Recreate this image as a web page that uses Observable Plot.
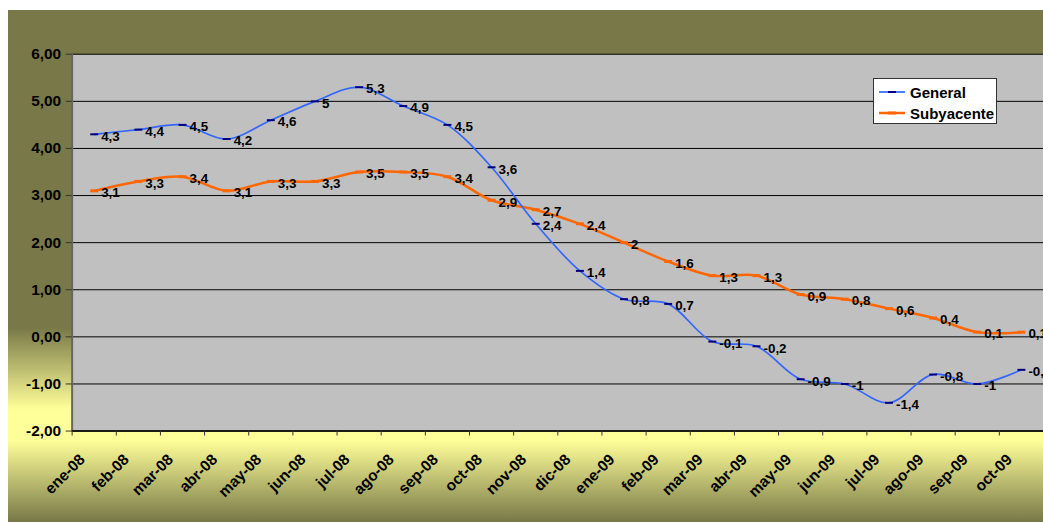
<!DOCTYPE html>
<html>
<head>
<meta charset="utf-8">
<script src="https://cdn.jsdelivr.net/npm/d3@7"></script>
<script src="https://cdn.jsdelivr.net/npm/@observablehq/plot@0.6"></script>
<style>
  html, body { margin: 0; padding: 0; background: #ffffff; }
  body { width: 1043px; height: 522px; position: relative; overflow: hidden; font-family: Arial, "Liberation Sans", sans-serif; }
  #wrap {
    position: absolute; left: 8px; top: 10px; width: 1035px; height: 512px; overflow: hidden;
    background: linear-gradient(to bottom, #787848 0%, #787848 62%, #ffff99 78%, #ffff99 84%, #787848 100%);
  }
  #legend {
    position: absolute; left: 865px; top: 68px; width: 124px; height: 46px;
    background: #ffffff; border: 1px solid #333333; box-sizing: border-box;
    font-weight: bold; font-size: 15px; color: #000;
  }
  #legend .row { position: absolute; left: 4px; height: 18px; display: flex; align-items: center; }
  #legend .row span { margin-left: 4px; }
</style>
</head>
<body>
<div id="wrap">
  <div id="chart"></div>
  <div id="legend"></div>
</div>
<script>
const months = ["ene-08","feb-08","mar-08","abr-08","may-08","jun-08","jul-08","ago-08","sep-08","oct-08","nov-08","dic-08",
                "ene-09","feb-09","mar-09","abr-09","may-09","jun-09","jul-09","ago-09","sep-09","oct-09"];
const general = [4.3,4.4,4.5,4.2,4.6,5,5.3,4.9,4.5,3.6,2.4,1.4,0.8,0.7,-0.1,-0.2,-0.9,-1,-1.4,-0.8,-1,-0.7];
const subyacente = [3.1,3.3,3.4,3.1,3.3,3.3,3.5,3.5,3.4,2.9,2.7,2.4,2,1.6,1.3,1.3,0.9,0.8,0.6,0.4,0.1,0.1];
const yTicks = [-2,-1,0,1,2,3,4,5,6];
const seriesNames = ["General","Subyacente"];

const colors = { General: "#3366ff", Subyacente: "#ff6600" };
const markerColors = { General: "#000080", Subyacente: "#ff6600" };

const rows = months.map((m, i) => ({ pos: i + 0.5, month: m, General: general[i], Subyacente: subyacente[i] }));
const fmt = v => String(v).replace(".", ",");

const dash = (w) => ({ draw(ctx) { ctx.moveTo(-w, 0); ctx.lineTo(w, 0); } });

const boundaries = d3.range(0, months.length + 1);
const centers = rows.map(d => d.pos);

const chart = Plot.plot({
  width: 1041,
  height: 512,
  marginLeft: 64,
  marginRight: 0,
  marginTop: 44,
  marginBottom: 89,
  style: { background: "transparent", fontFamily: "Arial, 'Liberation Sans', sans-serif", color: "#000", overflow: "visible" },
  x: { type: "linear", domain: [0, months.length], axis: null },
  y: { domain: [-2, 6], axis: null },
  marks: [
    Plot.frame({ fill: "#c0c0c0", stroke: null }),
    Plot.gridY(yTicks, { stroke: "#000", strokeOpacity: 1, strokeWidth: 1 }),
    Plot.ruleX([0], { stroke: "#666", strokeWidth: 2 }),
    Plot.ruleY([-2], { stroke: "#000", strokeWidth: 1.5 }),
    Plot.axisY(yTicks, { label: null, tickSize: 6, tickPadding: 5, stroke: "#333", fontSize: 15.5, fontWeight: "bold", fill: "#000",
      tickFormat: d => d.toFixed(2).replace(".", ",") }),
    Plot.axisX(boundaries, { label: null, tickSize: 5, stroke: "#333", tickFormat: () => "" }),
    Plot.axisX(centers, { label: null, tickSize: 0, tickPadding: 26, dx: -12, tickRotate: -45, fontSize: 15.5, fontWeight: "bold", fill: "#000",
      tickFormat: d => months[Math.floor(d)] }),
    // Subyacente
    Plot.line(rows, { x: "pos", y: "Subyacente", curve: "catmull-rom", stroke: colors.Subyacente, strokeWidth: 2.5 }),
    Plot.dot(rows, { x: "pos", y: "Subyacente", symbol: dash(4), stroke: markerColors.Subyacente, strokeWidth: 3, fill: "none" }),
    // General
    Plot.line(rows, { x: "pos", y: "General", curve: "catmull-rom", stroke: colors.General, strokeWidth: 1.7 }),
    Plot.dot(rows, { x: "pos", y: "General", symbol: dash(4), stroke: markerColors.General, strokeWidth: 2, fill: "none" }),
    Plot.text(rows, { x: "pos", y: "General", text: d => fmt(d.General), dx: 7, dy: 2, textAnchor: "start",
      fontSize: 13.5, fontWeight: "bold", fill: "#000" }),
    Plot.text(rows, { x: "pos", y: "Subyacente", text: d => fmt(d.Subyacente), dx: 7, dy: 2, textAnchor: "start",
      fontSize: 13.5, fontWeight: "bold", fill: "#000" })
  ]
});
document.getElementById("chart").appendChild(chart);

// Legend
const legend = document.getElementById("legend");
seriesNames.forEach((name, k) => {
  const row = document.createElement("div");
  row.className = "row";
  row.style.top = (4 + k * 21) + "px";
  row.innerHTML = `<svg width="28" height="10"><line x1="1" x2="27" y1="5" y2="5" stroke="${colors[name]}" stroke-width="${name === "General" ? 1.7 : 2.5}"/>` +
    `<line x1="10" x2="18" y1="5" y2="5" stroke="${markerColors[name]}" stroke-width="${name === "General" ? 2 : 3}"/></svg><span>${name}</span>`;
  legend.appendChild(row);
});
</script>
</body>
</html>
